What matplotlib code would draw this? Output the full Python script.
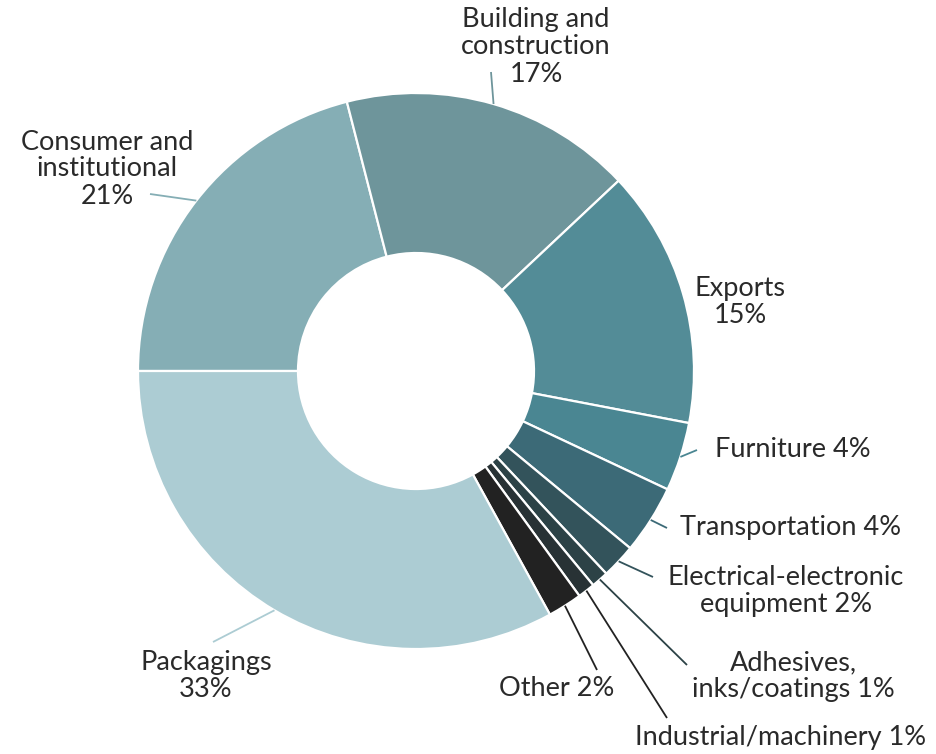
import numpy as np
import matplotlib
matplotlib.use("Agg")
import matplotlib.pyplot as plt

# End-use shares (%), listed clockwise starting from the 9 o'clock position
categories = ["Consumer and\ninstitutional", "Building and\nconstruction", "Exports",
              "Furniture", "Transportation", "Electrical-electronic\nequipment",
              "Adhesives,\ninks/coatings", "Industrial/machinery", "Other", "Packagings"]
shares = [21, 17, 15, 4, 4, 2, 1, 1, 2, 33]
label_texts = ["Consumer and\ninstitutional\n21%", "Building and\nconstruction\n17%",
               "Exports\n15%", "Furniture 4%", "Transportation 4%",
               "Electrical-electronic\nequipment 2%", "Adhesives,\ninks/coatings 1%",
               "Industrial/machinery 1%", "Other 2%", "Packagings\n33%"]
colors = ["#85aeb5", "#6e959b", "#538c97", "#4a8692", "#3c6a77",
          "#33535b", "#2c4246", "#283235", "#222222", "#acccd3"]
leader_colors = ["#85aeb5", "#6e959b", None, "#4a8692", "#3c6a77",
                 "#33535b", "#2c4246", "#222222", "#222222", "#acccd3"]

W, H = 937, 754
fig = plt.figure(figsize=(W / 100, H / 100), dpi=100)
ax = fig.add_axes([0, 0, 1, 1])

cx, cy = 416, H - 371
R, r_in = 278, 118

wedges, _ = ax.pie(shares, colors=colors, startangle=180, counterclock=False,
                   center=(cx, cy), radius=R, frame=True,
                   wedgeprops=dict(width=R - r_in, edgecolor="white", linewidth=1.6))
ax.set_xlim(0, W)
ax.set_ylim(0, H)
ax.set_aspect("equal")
ax.axis("off")

# label anchor (pixel coords from top-left), alignment, and leader end point
label_layout = [
    ((107, 169), "center", (150, 194)),
    ((536, 47), "center", (491, 72)),
    ((740, 302), "center", None),
    ((715, 450), "left", (697, 450)),
    ((680, 528), "left", (667, 528)),
    ((786, 591), "center", (653, 577)),
    ((793, 676), "center", (687, 665)),
    ((781, 738), "center", (667, 718)),
    ((557, 689), "center", (597, 670)),
    ((206, 676), "center", (213, 642)),
]

font = dict(family=["Lato", "DejaVu Sans"], fontsize=19.5, color="#2a2a2a")

for w, txt, (pos, ha, end), lc in zip(wedges, label_texts, label_layout, leader_colors):
    tx, ty = pos
    ax.text(tx, H - ty, txt, ha=ha, va="center", multialignment="center",
            linespacing=1.1, **font)
    if end is not None:
        mid = np.deg2rad((w.theta1 + w.theta2) / 2)
        sx, sy = cx + R * np.cos(mid), cy + R * np.sin(mid)
        ax.plot([sx, end[0]], [sy, H - end[1]], color=lc, lw=1.3,
                solid_capstyle="butt")

fig.savefig("out.png", dpi=100, facecolor="white")
